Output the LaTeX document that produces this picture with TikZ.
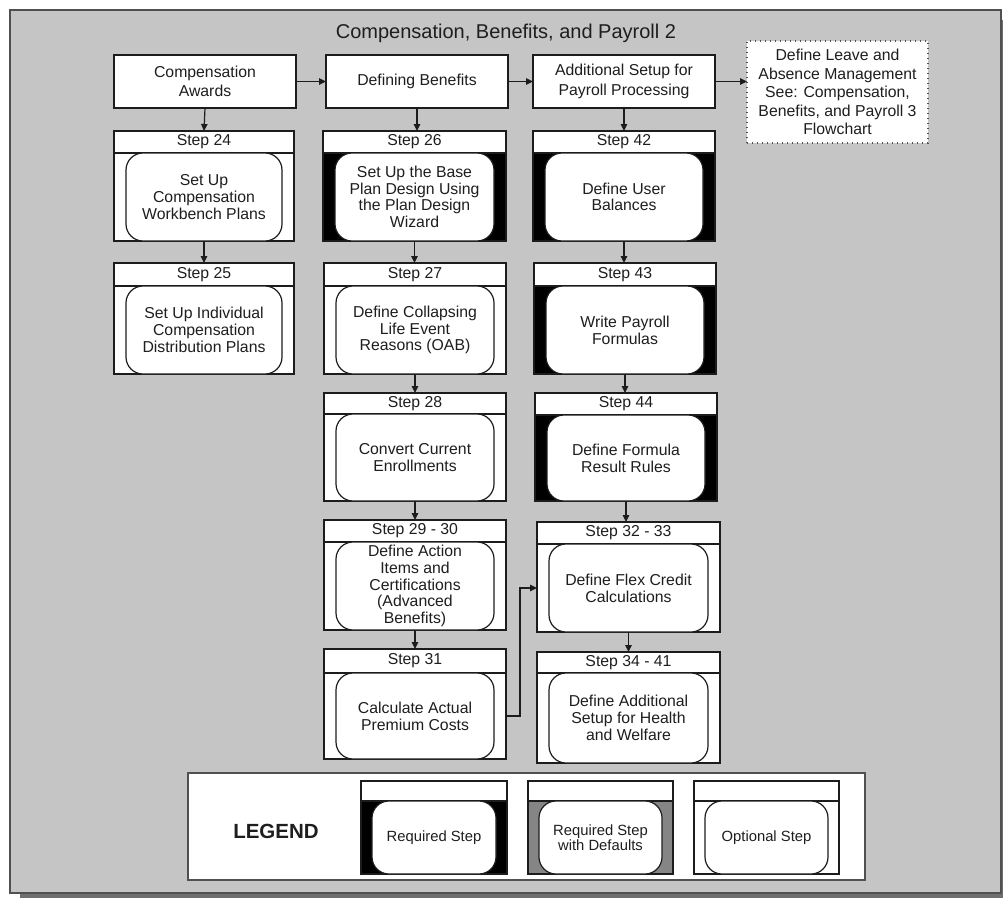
\documentclass[tikz,border=0pt]{standalone}
\usepackage{fontspec}
\setmainfont{Liberation Sans}
\usetikzlibrary{arrows.meta}

\definecolor{bggray}{HTML}{C5C5C5}
\definecolor{framegray}{HTML}{505050}
\definecolor{shadowgray}{HTML}{6E6E6E}
\definecolor{linec}{HTML}{1C1C1C}
\definecolor{textc}{HTML}{1E1E1E}
\definecolor{defgray}{HTML}{858585}

\newcommand{\stepfont}{\fontsize{15.8}{16.7}\selectfont}
\newcommand{\legfont}{\fontsize{14.8}{15.2}\selectfont}

\tikzset{
  boxline/.style={draw=linec, line width=1.2pt},
  hdr/.style={boxline, fill=white, inner sep=0pt, outer sep=0pt,
    text=textc, font=\stepfont},
  bodybox/.style={boxline, inner sep=0pt, outer sep=0pt},
  innerbox/.style={boxline, fill=white, rounded corners=17pt, inner sep=0pt,
    outer sep=0pt, align=center, text=textc, font=\stepfont},
  topbox/.style={boxline, fill=white, inner sep=0pt, outer sep=0pt,
    align=center, text=textc, font=\fontsize{15.8}{19.2}\selectfont},
  refbox/.style={draw=framegray, line width=1.3pt, dash pattern=on 1.4pt off 3.6pt,
    fill=white, inner sep=0pt, outer sep=0pt, align=center, text=textc,
    font=\fontsize{15.8}{18.4}\selectfont},
  arr/.style={draw=linec, line width=1.2pt, -{Triangle[length=7pt,width=6.5pt]}},
}

% #1 name, #2 left, #3 right, #4 top, #5 header bottom, #6 bottom,
% #7 body fill, #8 step label, #9 task text
\newcommand{\stepblock}[9]{%
  \node[hdr, minimum width={#3-#2}, minimum height={#5-#4}]
    (#1h) at ({(#2+#3)/2},{(#4+#5)/2}) {#8};
  \node[bodybox, fill=#7, minimum width={#3-#2}, minimum height={#6-#5}]
    (#1) at ({(#2+#3)/2},{(#5+#6)/2}) {};
  \node[innerbox, minimum width={#3-#2-24}, minimum height={#6-#5}]
    (#1t) at (#1.center) {#9};
}

% legend sample: #1 name, #2 left, #3 right, #4 body fill, #5 text
\newcommand{\legendblock}[5]{%
  \node[hdr, minimum width={#3-#2}, minimum height=20]
    (#1h) at ({(#2+#3)/2},791) {};
  \node[bodybox, fill=#4, minimum width={#3-#2}, minimum height=73]
    (#1) at ({(#2+#3)/2},837.5) {};
  \node[innerbox, font=\legfont, minimum width={#3-#2-22}, minimum height=73]
    (#1t) at (#1.center) {#5};
}

\begin{document}
\begin{tikzpicture}[x=1pt,y=-1pt]
\useasboundingbox (0,0) rectangle (1003,899);

% sheet with its drop shadow
\fill[shadowgray] (20,20) rectangle (1003,898);
\draw[fill=bggray, draw=framegray, line width=1.6pt] (10,10) rectangle (1001,893);

\node[text=textc, font=\fontsize{20}{24}\selectfont] (title) at (506,33)
  {Compensation, Benefits, and Payroll 2};

% top row of task groups
\node[topbox, minimum width=182, minimum height=53] (ca) at (205,81.5)
  {Compensation\\Awards};
\node[topbox, minimum width=182, minimum height=53] (db) at (417,81.5)
  {Defining Benefits};
\node[topbox, minimum width=182, minimum height=53] (as) at (624,81.5)
  {Additional Setup for\\Payroll Processing};
\node[refbox, minimum width=181, minimum height=102] (dl) at (837.5,92)
  {Define Leave and\\Absence Management\\See: Compensation,\\Benefits, and Payroll 3\\Flowchart};

% compensation awards
\stepblock{s24}{114}{294}{131}{153}{241}{white}{Step 24}{Set Up\\Compensation\\Workbench Plans}
\stepblock{s25}{114}{294}{263}{286}{374}{white}{Step 25}{Set Up Individual\\Compensation\\Distribution Plans}

% benefits
\stepblock{s26}{323}{506}{131}{153}{241}{black}{Step 26}{Set Up the Base\\Plan Design Using\\the Plan Design\\Wizard}
\stepblock{s27}{324}{506}{263}{286}{374}{white}{Step 27}{Define Collapsing\\Life Event\\Reasons (OAB)}
\stepblock{s28}{324}{506}{393}{414}{501}{white}{Step 28}{Convert Current\\Enrollments}
\stepblock{s2930}{324}{506}{520}{542}{630}{white}{Step 29 - 30}{Define Action\\Items and\\Certifications\\(Advanced\\Benefits)}
\stepblock{s31}{324}{506}{649}{673}{759}{white}{Step 31}{Calculate Actual\\Premium Costs}

% payroll processing
\stepblock{s42}{533}{715}{131}{153}{241}{black}{Step 42}{Define User\\Balances}
\stepblock{s43}{534}{716}{263}{286}{374}{black}{Step 43}{Write Payroll\\Formulas}
\stepblock{s44}{535}{717}{393}{415}{501}{black}{Step 44}{Define Formula\\Result Rules}
\stepblock{s3233}{537}{720}{522}{544}{632}{white}{Step 32 - 33}{Define Flex Credit\\Calculations}
\stepblock{s3441}{537}{720}{652}{673}{763}{white}{Step 34 - 41}{Define Additional\\Setup for Health\\and Welfare}

% flow
\draw[arr] (ca.east) -- (db.west);
\draw[arr] (db.east) -- (as.west);
\draw[arr] (as.east) -- (as.east -| dl.west);
\draw[arr] (ca.south) -- (s24h.north);
\draw[arr] (s24.south) -- (s25h.north);
\draw[arr] (db.south) -- (db.south |- s26h.north);
\draw[arr] (s26.south) -- (s26.south |- s27h.north);
\draw[arr] (s27.south) -- (s28h.north);
\draw[arr] (s28.south) -- (s2930h.north);
\draw[arr] (s2930.south) -- (s31h.north);
\draw[arr] (as.south) -- (as.south |- s42h.north);
\draw[arr] (s42.south) -- (s42.south |- s43h.north);
\draw[arr] (s43.south) -- (s43.south |- s44h.north);
\draw[arr] (s44.south) -- (s44.south |- s3233h.north);
\draw[arr] (s3233.south) -- (s3441h.north);
\draw[arr] (s31.east) -- ++(14,0) |- (s3233.west);

% legend
\node[draw=framegray, line width=1.4pt, fill=white, minimum width=677,
  minimum height=107, inner sep=0pt] (legend) at (526.5,826.5) {};
\node[text=textc, font=\fontsize{20.5}{24}\selectfont\bfseries] (legtitle)
  at (276,831) {LEGEND};
\legendblock{lreq}{361}{507}{black}{Required Step}
\legendblock{ldef}{528}{673}{defgray}{Required Step\\with Defaults}
\legendblock{lopt}{694}{839}{white}{Optional Step}

\end{tikzpicture}
\end{document}
